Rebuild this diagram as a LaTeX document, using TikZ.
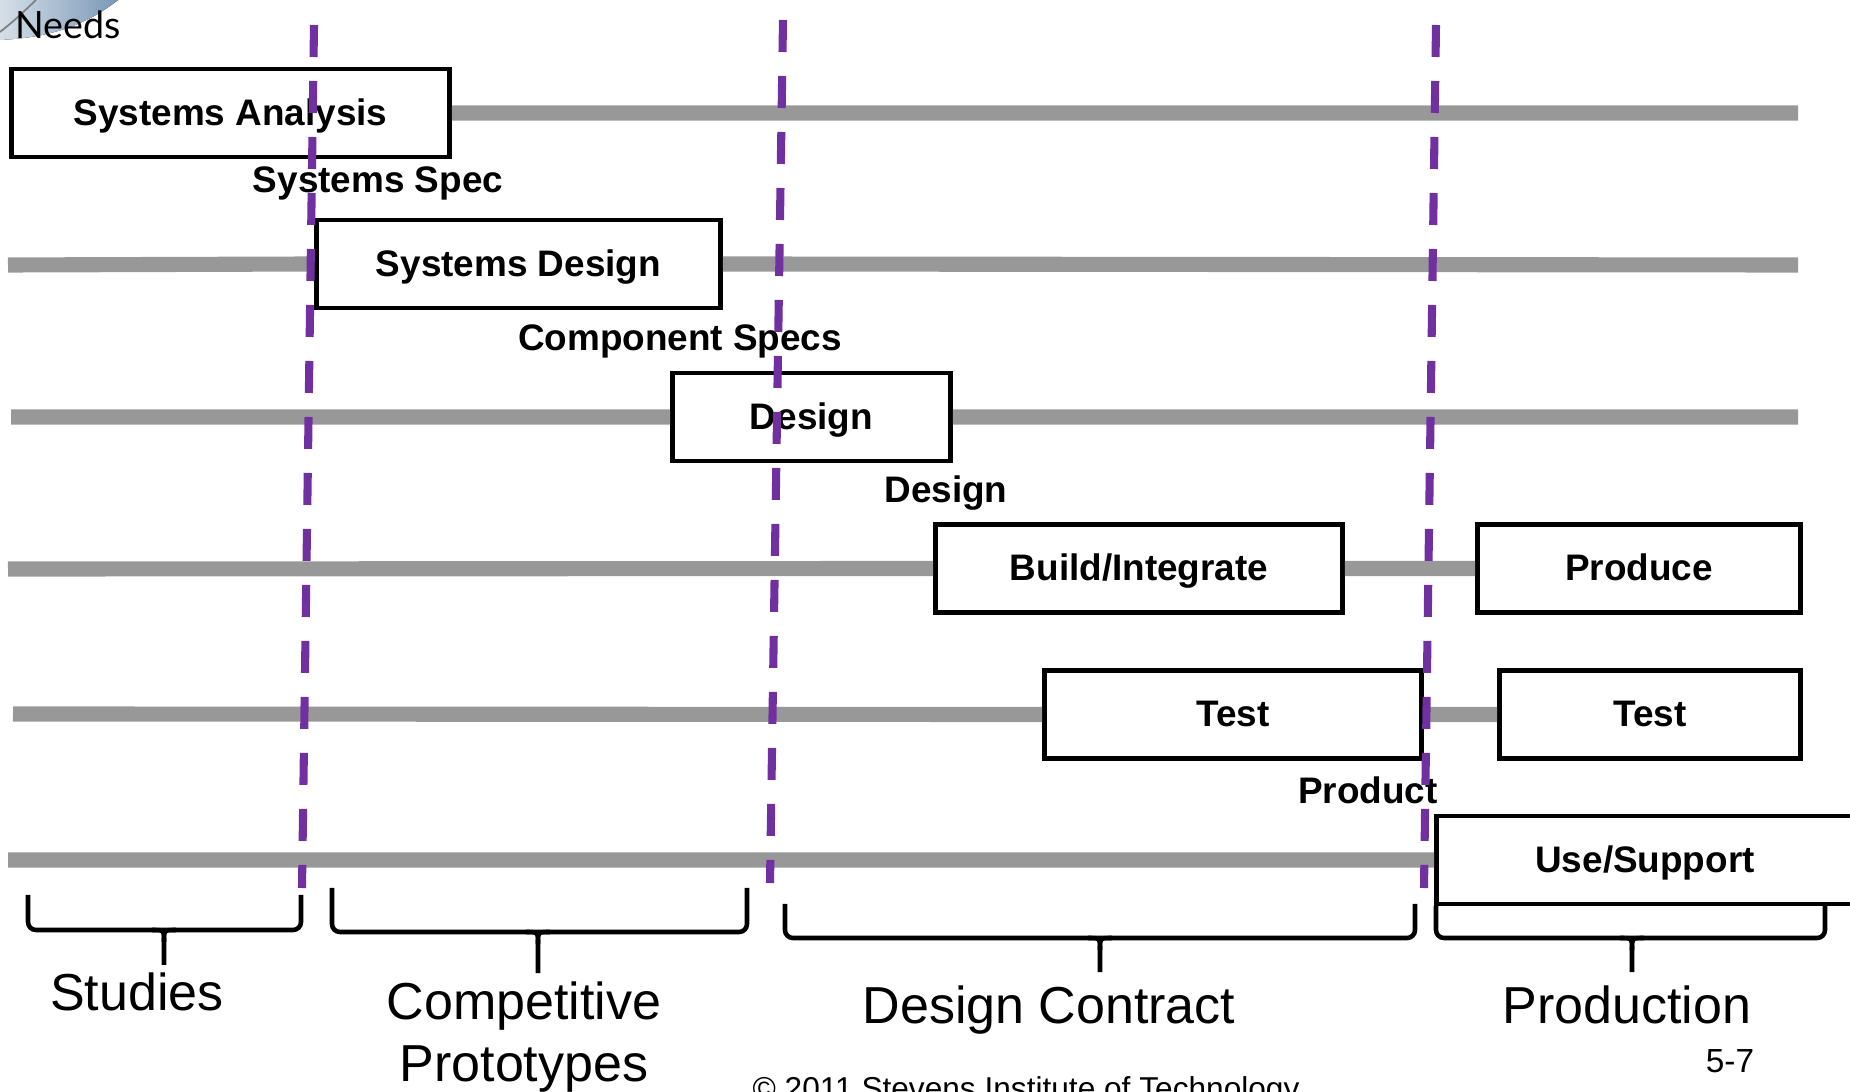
\documentclass[tikz,border=0pt]{standalone}
\usepackage{fontspec}
\setmainfont{Liberation Sans}
\newfontfamily\needsfont{Lato}
\usetikzlibrary{calc}

\definecolor{bargray}{RGB}{152,152,152}
\definecolor{gatepurple}{RGB}{112,48,160}
\definecolor{cornerlight}{RGB}{214,223,232}
\definecolor{cornerdark}{RGB}{122,152,184}

\tikzset{
  phase/.style={draw,rectangle,line width=1.4pt,fill=white,minimum height=.88cm,inner sep=0pt,
    font=\fontsize{10.5}{12}\selectfont\bfseries,text height=.70em,text depth=0pt},
  flow/.style={line width=4.3pt,bargray},
  gate/.style={line width=2.3pt,gatepurple,dash pattern=on .32cm off .24cm},
  spec/.style={inner sep=0pt,anchor=base,font=\fontsize{10.5}{12}\selectfont\bfseries},
  era/.style={line width=1.3pt,rounded corners=.08cm},
  eralabel/.style={inner sep=0pt,anchor=base,font=\fontsize{14.8}{16}\selectfont}
}

\begin{document}
\begin{tikzpicture}
      \useasboundingbox (0,0) rectangle (18.5,-10.92);
      \clip (0,0) rectangle (18.5,-10.92);
      % template corner
      \fill[left color=cornerlight,right color=cornerdark]
        (0,0) -- (1.18,0) .. controls (0.8,-0.3) and (0.4,-0.38) .. (0,-0.40) -- cycle;
      \draw[gray,line width=.5pt] (0,-0.32) .. controls (0.15,-0.2) .. (0.36,0);
      \draw (0.15,-0.39) node [inner sep=0pt,anchor=base west,font=\needsfont\fontsize{10.7}{12}\selectfont] (needs) {Needs};
      % activity boxes
      \draw (2.305,-1.13) node [phase,minimum width=4.38cm] (sa) {Systems Analysis};
      \draw (5.185,-2.64) node [phase,minimum width=4.04cm] (sd) {Systems Design};
      \draw (8.115,-4.17) node [phase,minimum width=2.78cm] (des) {Design};
      \draw (11.39,-5.685) node [phase,minimum width=4.07cm] (build) {Build/Integrate};
      \draw (16.39,-5.685) node [phase,minimum width=3.23cm] (prod) {Produce};
      \draw (12.33,-7.145) node [phase,minimum width=3.77cm] (test) {Test};
      \draw (16.50,-7.145) node [phase,minimum width=3.01cm] (retest) {Test};
      \draw (16.45,-8.60) node [phase,minimum width=4.17cm] (use) {Use/Support};
      % bar ends
      \coordinate (r1e) at (17.98,-1.13);
      \coordinate (r2w) at (0.08,-2.65);
      \coordinate (r2e) at (17.98,-2.65);
      \coordinate (r3w) at (0.11,-4.17);
      \coordinate (r3e) at (17.98,-4.17);
      \coordinate (r4w) at (0.08,-5.69);
      \coordinate (r5w) at (0.13,-7.14);
      \coordinate (r6w) at (0.08,-8.60);
      \draw[flow]
        (sa.east) -- (r1e)
        (r2w) -- (sd.west) (sd.east) -- (r2e)
        (r3w) -- (des.west) (des.east) -- (r3e)
        (r4w) -- (build.west) (build.east) -- (prod.west)
        (r5w) -- (test.west) (test.east) -- (retest.west)
        (r6w) -- (use.west);
      % hand-offs
      \draw (3.78,-1.93) node [spec] (sspec) {Systems Spec};
      \draw (6.80,-3.51) node [spec] (cspec) {Component Specs};
      \draw (9.46,-5.03) node [spec] (dspec) {Design};
      \draw (13.68,-8.04) node [spec] (pspec) {Product};
      % milestones
      \coordinate (g1t) at (3.14,-0.25);
      \coordinate (g1b) at (3.02,-8.88);
      \coordinate (g2t) at (7.83,-0.20);
      \coordinate (g2b) at (7.70,-8.83);
      \coordinate (g3t) at (14.36,-0.25);
      \coordinate (g3b) at (14.24,-8.88);
      \draw[gate] (g1t) -- (g1b) (g2t) -- (g2b) (g3t) -- (g3b);
      % phases
      \draw[era] (0.28,-8.95) -- (0.28,-9.30) -- (3.01,-9.30) -- (3.01,-8.95);
      \draw[line width=1.3pt] (1.52,-9.30) .. controls (1.64,-9.30) .. (1.64,-9.42) -- (1.64,-9.65);
      \draw[line width=1.3pt] (1.76,-9.30) .. controls (1.64,-9.30) .. (1.64,-9.42);
      \draw[era] (3.32,-8.88) -- (3.32,-9.32) -- (7.47,-9.32) -- (7.47,-8.88);
      \draw[line width=1.3pt] (5.26,-9.32) .. controls (5.38,-9.32) .. (5.38,-9.44) -- (5.38,-9.73);
      \draw[line width=1.3pt] (5.50,-9.32) .. controls (5.38,-9.32) .. (5.38,-9.44);
      \draw[era] (7.85,-9.04) -- (7.85,-9.38) -- (14.15,-9.38) -- (14.15,-9.04);
      \draw[line width=1.3pt] (10.88,-9.38) .. controls (11.00,-9.38) .. (11.00,-9.50) -- (11.00,-9.72);
      \draw[line width=1.3pt] (11.12,-9.38) .. controls (11.00,-9.38) .. (11.00,-9.50);
      \draw[era] (14.36,-9.06) -- (14.36,-9.38) -- (18.25,-9.38) -- (18.25,-9.06);
      \draw[line width=1.3pt] (16.20,-9.38) .. controls (16.32,-9.38) .. (16.32,-9.50) -- (16.32,-9.72);
      \draw[line width=1.3pt] (16.44,-9.38) .. controls (16.32,-9.38) .. (16.32,-9.50);
      \draw (1.37,-10.10) node [eralabel] (studies) {Studies};
      \draw (5.24,-10.19) node [eralabel] (comp) {Competitive};
      \draw (5.24,-10.81) node [eralabel] (proto) {Prototypes};
      \draw (10.49,-10.24) node [eralabel] (contract) {Design Contract};
      \draw (16.27,-10.24) node [eralabel] (production) {Production};
      % footer
      \draw (17.30,-10.72) node [inner sep=0pt,anchor=base,font=\fontsize{9.5}{11}\selectfont] (page) {5-7};
      \draw (10.26,-10.99) node [inner sep=0pt,anchor=base,font=\fontsize{9}{11}\selectfont] (copy) {\textcopyright{} 2011 Stevens Institute of Technology};
\end{tikzpicture}
\end{document}
